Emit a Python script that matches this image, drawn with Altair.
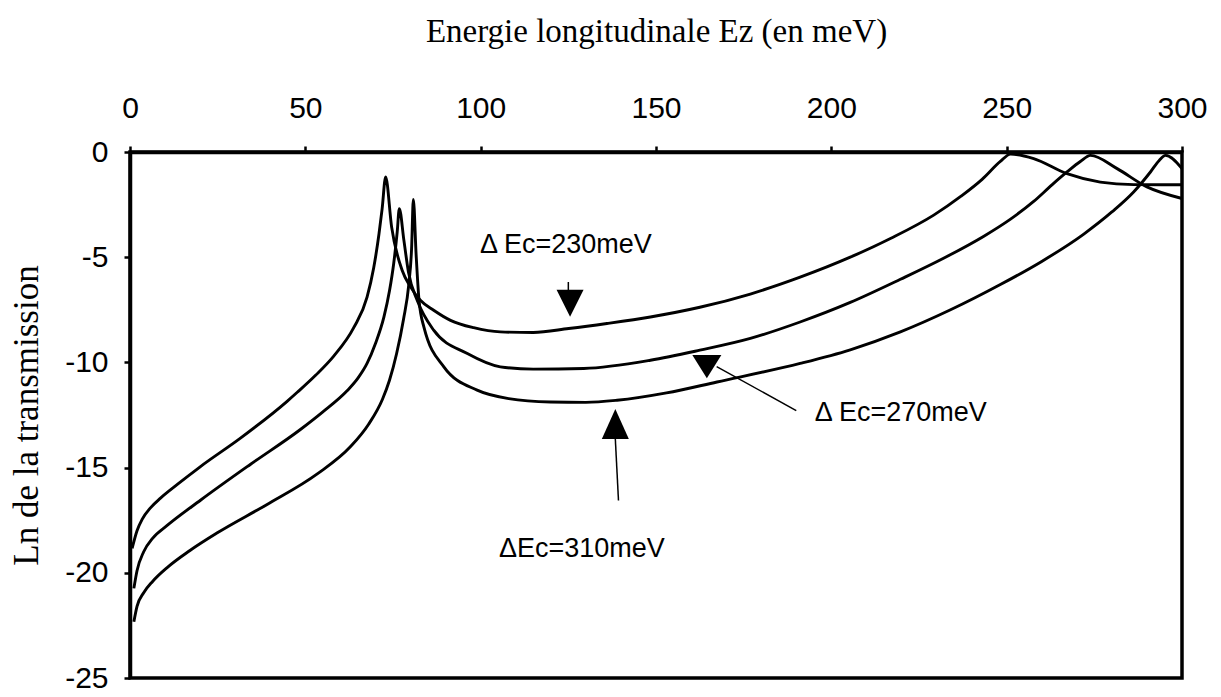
import altair as alt
import pandas as pd

# ---- data ----
x_ticks = [0, 50, 100, 150, 200, 250, 300]
y_ticks = [0, -5, -10, -15, -20, -25]

# Delta Ec = 230 meV
a_ez = [0.6, 2.0, 3.5, 5.9, 8.7, 13.5, 20.1, 31.5, 44.8, 47.7, 53.0, 58.1, 63.8, 67.6, 69.5, 71.0, 71.9, 72.9,
        74.6, 77.6, 80.0, 82.8, 86.6, 91.4, 98.0, 105.6, 115.0, 125.1, 136.0, 148.4, 162.5, 176.9,
        191.1, 205.4, 217.0, 229.2, 237.0, 243.0, 248.2, 251.1, 257.7, 267.2, 276.7, 286.2, 300.0]
a_ln = [-18.84, -18.0, -17.45, -16.9, -16.45, -15.8, -14.95, -13.6, -11.85, -11.42, -10.6, -9.7, -8.35, -6.9, -5.5, -3.9, -2.7, -1.19,
        -3.56, -5.62, -6.41, -7.05, -7.52, -8.0, -8.35, -8.55, -8.58, -8.39, -8.15, -7.84, -7.38, -6.75,
        -5.95, -5.0, -4.1, -3.0, -2.1, -1.3, -0.45, -0.1, -0.31, -1.03, -1.43, -1.55, -1.56]

# Delta Ec = 270 meV
b_ez = [1.1, 2.0, 3.9, 6.5, 10.6, 20.1, 34.3, 48.5, 55.0, 61.9, 65.0, 67.6, 70.0, 72.4, 74.0, 75.2, 76.2, 76.8,
        78.1, 79.4, 81.9, 86.6, 96.2, 105.6, 115.0, 129.4, 148.4, 162.5, 176.9, 191.1, 205.4,
        219.7, 232.0, 243.5, 251.0, 257.7, 263.0, 267.2, 271.0, 273.9, 281.5, 290.0, 300.0]
b_ln = [-20.74, -19.9, -19.0, -18.35, -17.75, -16.55, -14.85, -13.2, -12.35, -11.35, -10.75, -10.05, -9.1, -7.85, -6.6, -5.3, -3.8, -2.69,
        -4.19, -5.7, -7.05, -8.47, -9.58, -10.21, -10.32, -10.29, -9.9, -9.42, -8.86, -8.08, -7.15,
        -6.05, -5.05, -4.0, -3.2, -2.35, -1.55, -0.95, -0.45, -0.16, -0.79, -1.66, -2.21]

# Delta Ec = 310 meV
c_ez = [1.1, 2.0, 3.9, 6.5, 10.6, 17.0, 24.9, 39.1, 53.4, 62.9, 68.0, 72.0, 74.0, 76.0, 78.0, 79.5, 80.3, 80.8,
        81.6, 82.4, 83.8, 89.5, 99.0, 108.0, 119.9, 130.0, 138.9, 153.0, 167.4, 191.1, 205.4,
        219.7, 234.0, 248.2, 260.0, 272.0, 280.0, 286.2, 291.0, 293.5, 295.3, 300.0]
c_ln = [-22.33, -21.6, -20.95, -20.4, -19.75, -18.95, -18.1, -16.75, -15.3, -14.0, -12.95, -11.75, -10.85, -9.6, -7.95, -6.3, -4.6, -2.26,
        -4.9, -7.0, -8.31, -10.21, -11.32, -11.72, -11.88, -11.9, -11.8, -11.45, -10.93, -10.05, -9.4,
        -8.55, -7.5, -6.3, -5.2, -3.9, -2.85, -1.9, -0.95, -0.4, -0.16, -0.79]

series = ["230", "270", "310"]

# annotation labels
label_text = ["\u0394 Ec=230meV", "\u0394 Ec=270meV", "\u0394Ec=310meV"]
label_ez = [99.8, 195.3, 105.2]
label_ln = [-4.80, -12.80, -19.25]

# arrow heads (centres) and stems
head_ez = [125.5, 164.5, 138.4]
head_ln = [-7.19, -10.20, -12.93]
stem_ez = [125.0, 167.3, 138.4]
stem_ln = [-6.18, -10.20, -13.64]
stem_ez2 = [125.0, 190.0, 139.3]
stem_ln2 = [-6.56, -12.29, -16.56]

# ---- tables ----
rows = []
for name, xs, ys in zip(series, [a_ez, b_ez, c_ez], [a_ln, b_ln, c_ln]):
    for i, (xv, yv) in enumerate(zip(xs, ys)):
        rows.append({"serie": name, "ez": xv, "lnT": yv, "i": i})
curves = pd.DataFrame(rows)
labels = pd.DataFrame({"txt": label_text, "ez": label_ez, "lnT": label_ln})
stems = pd.DataFrame({"ez": stem_ez, "lnT": stem_ln, "ez2": stem_ez2, "lnT2": stem_ln2})

xscale = alt.Scale(domain=[0, 300], nice=False, zero=False)
yscale = alt.Scale(domain=[-25, 0], nice=False, zero=False)

x_axis = alt.Axis(orient="top", values=x_ticks, title="Energie longitudinale Ez (en meV)",
                  labelBaseline="alphabetic", labelPadding=29, labelFlush=False, labelOverlap=False,
                  labelExpr="datum.value + ''",
                  titleFontSize=33, titleY=-111, titleBaseline="alphabetic")
y_axis = alt.Axis(orient="left", values=y_ticks, title="Ln de la transmission",
                  labelPadding=16, labelOverlap=False, labelExpr="datum.value + ''",
                  titleFontSize=35, titleAngle=270, titleX=-93, titleY=263, titleBaseline="alphabetic")


def X(field="ez"):
    return alt.X(f"{field}:Q", scale=xscale, axis=x_axis, title="Energie longitudinale Ez (en meV)")


def Y(field="lnT"):
    return alt.Y(f"{field}:Q", scale=yscale, axis=y_axis, title="Ln de la transmission")


lines = alt.Chart(curves).mark_line(color="black", strokeWidth=2.9, interpolate="monotone").encode(
    x=X(), y=Y(), detail="serie:N", order="i:Q")

texts = alt.Chart(labels).mark_text(align="left", baseline="alphabetic", font="Liberation Sans",
                                    fontSize=27, color="black").encode(x=X(), y=Y(), text="txt:N")

rules = alt.Chart(stems).mark_rule(color="black", strokeWidth=1.5).encode(
    x=X(), y=Y(), x2="ez2:Q", y2="lnT2:Q")

shapes = ["M-1,-1L1,-1L0,1Z", "M-1,-0.8L1,-0.8L0,0.8Z", "M0,-1L0.9,1L-0.9,1Z"]
sizes = [729, 841, 900]
heads = []
for k in range(3):
    d = pd.DataFrame({"ez": [head_ez[k]], "lnT": [head_ln[k]]})
    heads.append(alt.Chart(d).mark_point(shape=shapes[k], size=sizes[k], filled=True, color="black",
                                         opacity=1, strokeWidth=0).encode(x=X(), y=Y()))

chart = alt.layer(lines, rules, *heads, texts).properties(
    width=1052, height=526,
    padding={"left": 130, "top": 152, "right": 39, "bottom": 19},
    autosize=alt.AutoSizeParams(type="none"),
    background="white",
).configure_axis(
    domainColor="black", domainWidth=3.5, tickColor="black", tickWidth=2.5, tickSize=6,
    grid=False, labelFont="Liberation Sans", labelFontSize=30, labelColor="black",
    titleFont="Liberation Serif", titleFontWeight="normal", titleColor="black",
).configure_view(stroke="black", strokeWidth=3.5)

chart.save("out.html", embed_options={"renderer": "svg", "actions": False})
